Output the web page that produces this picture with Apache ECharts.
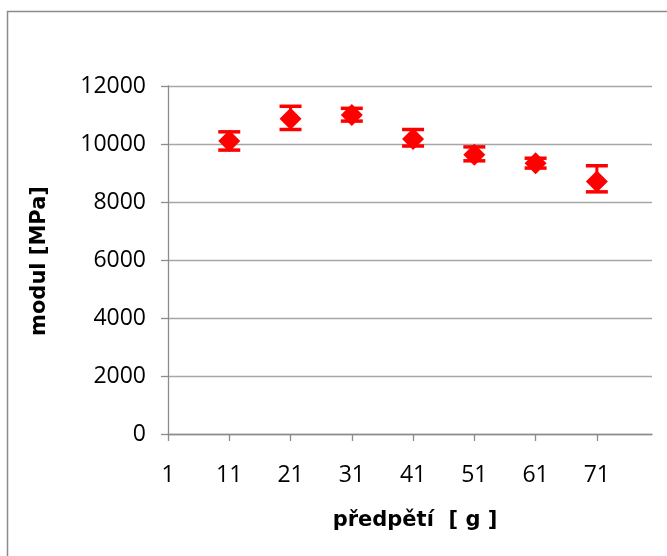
<!DOCTYPE html>
<html>
<head>
<meta charset="utf-8">
<script src="https://cdn.jsdelivr.net/npm/echarts@6/dist/echarts.min.js"></script>
<style>
html,body{margin:0;padding:0;background:#fff;}
#chart{width:667px;height:556px;}
</style>
</head>
<body>
<div id="chart"></div>
<script>
// Data
const xValues = [11, 21, 31, 41, 51, 61, 71];
const modul   = [10100, 10870, 11000, 10170, 9630, 9340, 8710];
const errLow  = [9790, 10500, 10790, 9930, 9420, 9170, 8350];
const errHigh = [10420, 11300, 11230, 10500, 9900, 9510, 9250];
const xTickLabels = [1, 11, 21, 31, 41, 51, 61, 71];
const yTickLabels = [0, 2000, 4000, 6000, 8000, 10000, 12000];
const xTitle = 'předpětí  [ g ]';
const yTitle = 'modul [MPa]';

const pointData = xValues.map((x, i) => [x, modul[i]]);
const errData = xValues.map((x, i) => [x, errLow[i], errHigh[i]]);

const chart = echarts.init(document.getElementById('chart'), null, {renderer: 'canvas'});
const font = '"Open Sans", "Liberation Sans", sans-serif';
const titleFont = '"DejaVu Sans", sans-serif';

chart.setOption({
  animation: false,
  backgroundColor: '#fff',
  grid: {left: 168, right: 15, top: 86, bottom: 122, containLabel: false},
  xAxis: {
    type: 'value',
    min: 1,
    max: 80,
    splitLine: {show: false},
    axisLine: {show: true, onZero: false, lineStyle: {color: '#8c8c8c', width: 1.3}},
    axisTick: {show: true, inside: false, length: 7, customValues: xTickLabels,
      lineStyle: {color: '#8c8c8c', width: 1.3}},
    axisLabel: {customValues: xTickLabels, margin: 30, color: '#000',
      fontSize: 23, fontFamily: font}
  },
  yAxis: {
    type: 'value',
    min: 0,
    max: 12000,
    interval: 2000,
    axisLine: {show: true, lineStyle: {color: '#8c8c8c', width: 1.3}},
    axisTick: {show: true, length: 7, lineStyle: {color: '#8c8c8c', width: 1.3}},
    splitLine: {show: true, lineStyle: {color: '#a6a6a6', width: 1.3}},
    axisLabel: {margin: 22, color: '#000', fontSize: 23, fontFamily: font,
      customValues: yTickLabels, formatter: function (v) { return String(v); }}
  },
  graphic: [
    {type: 'rect', shape: {x: 7.5, y: 11.5, width: 700, height: 600},
     style: {fill: 'none', stroke: '#8c8c8c', lineWidth: 1.5}, z: 100},
    {type: 'text', x: 415, y: 521,
     style: {text: xTitle, font: 'bold 21px ' + titleFont, fill: '#000',
       textAlign: 'center', textVerticalAlign: 'middle'}},
    {type: 'text', x: 40, y: 261, rotation: Math.PI / 2,
     style: {text: yTitle, font: 'bold 21px ' + titleFont, fill: '#000',
       textAlign: 'center', textVerticalAlign: 'middle'}}
  ],
  series: [
    {
      type: 'custom',
      data: errData,
      z: 3,
      renderItem: function (params, api) {
        const x = api.value(0);
        const top = api.coord([x, api.value(2)]);
        const bot = api.coord([x, api.value(1)]);
        const hw = 11;
        const st = {stroke: '#ff0000', lineWidth: 3.5};
        return {
          type: 'group',
          children: [
            {type: 'line', shape: {x1: top[0], y1: top[1], x2: bot[0], y2: bot[1]}, style: {stroke: '#ff0000', lineWidth: 3}},
            {type: 'line', shape: {x1: top[0] - hw, y1: top[1], x2: top[0] + hw, y2: top[1]}, style: st},
            {type: 'line', shape: {x1: bot[0] - hw, y1: bot[1], x2: bot[0] + hw, y2: bot[1]}, style: st}
          ]
        };
      }
    },
    {
      type: 'scatter',
      data: pointData,
      symbol: 'diamond',
      symbolSize: [22, 22],
      itemStyle: {color: '#ff0000', opacity: 1},
      z: 4
    }
  ]
});
</script>
</body>
</html>
